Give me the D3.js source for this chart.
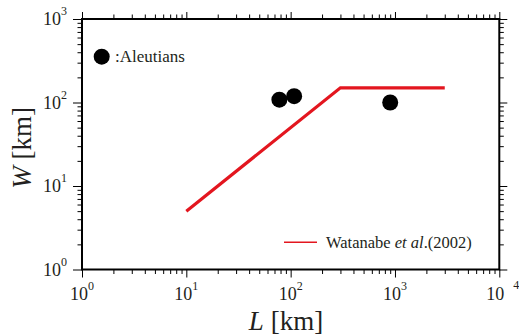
<!DOCTYPE html>
<html>
<head>
<meta charset="utf-8">
<script src="https://cdn.jsdelivr.net/npm/d3@7"></script>
<style>
  html, body { margin: 0; padding: 0; background: #fff; }
  svg { display: block; font-family: "Liberation Serif", "Times New Roman", serif; }
</style>
</head>
<body>
<svg id="chart" width="519" height="336"></svg>
<script>
// Aleutian rupture dimensions: length L and width W (km)
const aleutianL = [78, 108, 900];
const aleutianW = [108, 119, 100];

// Watanabe et al. (2002) scaling relation, as vertices of a polyline
const scalingL = [10, 300, 3000];
const scalingW = [5, 150, 150];

// Decade exponents for the axis labels
const xDecades = [0, 1, 2, 3, 4];
const yDecades = [0, 1, 2, 3];

const svg = d3.select("#chart");
const plotLeft = 82, plotRight = 499.3, plotTop = 19, plotBottom = 269.5;

const x = d3.scaleLog().domain([1, 1e4]).range([plotLeft, plotRight]);
const y = d3.scaleLog().domain([1, 1e3]).range([plotBottom, plotTop]);

function tickSets(maxExp) {
  const major = [], minor = [];
  for (let e = 0; e <= maxExp; e++) {
    major.push(Math.pow(10, e));
    if (e < maxExp) for (let m = 2; m <= 9; m++) minor.push(m * Math.pow(10, e));
  }
  return { major, minor };
}
const xt = tickSets(4), yt = tickSets(3);

function drawAxis(axisFn, scale, values, size, transform) {
  const g = svg.append("g")
    .attr("transform", transform)
    .call(axisFn(scale).tickValues(values).tickSize(size).tickFormat("").tickSizeOuter(0));
  g.select(".domain").remove();
  g.selectAll(".tick line").attr("stroke", "#000").attr("stroke-width", 1);
}

// Outward ticks on all four sides
drawAxis(d3.axisBottom, x, xt.minor, 4.5, `translate(0,${plotBottom})`);
drawAxis(d3.axisBottom, x, xt.major, 8, `translate(0,${plotBottom})`);
drawAxis(d3.axisTop, x, xt.minor, 4.5, `translate(0,${plotTop})`);
drawAxis(d3.axisTop, x, xt.major, 7, `translate(0,${plotTop})`);
drawAxis(d3.axisLeft, y, yt.minor, 4.5, `translate(${plotLeft},0)`);
drawAxis(d3.axisLeft, y, yt.major, 9, `translate(${plotLeft},0)`);
drawAxis(d3.axisRight, y, yt.minor, 4.5, `translate(${plotRight},0)`);
drawAxis(d3.axisRight, y, yt.major, 8, `translate(${plotRight},0)`);

// Frame
svg.append("rect")
  .attr("x", plotLeft).attr("y", plotTop)
  .attr("width", plotRight - plotLeft).attr("height", plotBottom - plotTop)
  .attr("fill", "none").attr("stroke", "#000").attr("stroke-width", 2);

// Tick labels (powers of ten)
const labelColor = "#231f20";
xDecades.forEach(e => {
  const px = x(Math.pow(10, e));
  if (e === 4) {
    const t = svg.append("text").attr("y", 300).attr("font-size", 18).attr("fill", labelColor);
    t.append("tspan").attr("x", px - 13).text("10");
    t.append("tspan").attr("x", px + 14).attr("dy", -11).attr("font-size", 12).text(e);
  } else {
    const t = svg.append("text").attr("x", px).attr("y", 300)
      .attr("text-anchor", "middle").attr("font-size", 18).attr("fill", labelColor);
    t.append("tspan").text("10");
    t.append("tspan").attr("dy", -10).attr("font-size", 12).text(e);
  }
});
yDecades.forEach(e => {
  const py = y(Math.pow(10, e));
  const t = svg.append("text").attr("x", plotLeft - 15).attr("y", py + 6)
    .attr("text-anchor", "end").attr("font-size", 18).attr("fill", labelColor);
  t.append("tspan").text("10");
  t.append("tspan").attr("dy", -10).attr("font-size", 12).text(e);
});

// Axis titles
const xTitle = svg.append("text").attr("x", 286).attr("y", 330)
  .attr("text-anchor", "middle").attr("font-size", 27).attr("fill", labelColor);
xTitle.append("tspan").attr("font-style", "italic").text("L");
xTitle.append("tspan").text(" [km]");

const yTitle = svg.append("text")
  .attr("transform", "translate(31,148) rotate(-90)")
  .attr("text-anchor", "middle").attr("font-size", 27).attr("fill", labelColor);
yTitle.append("tspan").attr("font-style", "italic").text("W");
yTitle.append("tspan").text(" [km]");

// Scaling relation line
const red = "#e3161f";
const line = d3.line().x(d => x(d[0])).y(d => y(d[1]));
svg.append("path")
  .datum(d3.zip(scalingL, scalingW))
  .attr("d", line)
  .attr("fill", "none").attr("stroke", red).attr("stroke-width", 3.2)
  .attr("stroke-linejoin", "miter");

// Aleutian events
svg.append("g").selectAll("circle")
  .data(d3.zip(aleutianL, aleutianW))
  .join("circle")
  .attr("cx", d => x(d[0])).attr("cy", d => y(d[1]))
  .attr("r", 8).attr("fill", "#000");

// Legend: marker (upper left)
svg.append("circle").attr("cx", 101.7).attr("cy", 56.7).attr("r", 8).attr("fill", "#000");
svg.append("text").attr("x", 115).attr("y", 62).attr("font-size", 17).attr("fill", labelColor)
  .text(":Aleutians");

// Legend: line (lower right)
svg.append("line").attr("x1", 284).attr("x2", 317).attr("y1", 242.3).attr("y2", 242.3)
  .attr("stroke", red).attr("stroke-width", 1.6);
const lg = svg.append("text").attr("x", 326).attr("y", 248).attr("font-size", 16.5).attr("fill", labelColor);
lg.append("tspan").text("Watanabe ");
lg.append("tspan").attr("font-style", "italic").text("et al");
lg.append("tspan").text(".(2002)");
</script>
</body>
</html>
